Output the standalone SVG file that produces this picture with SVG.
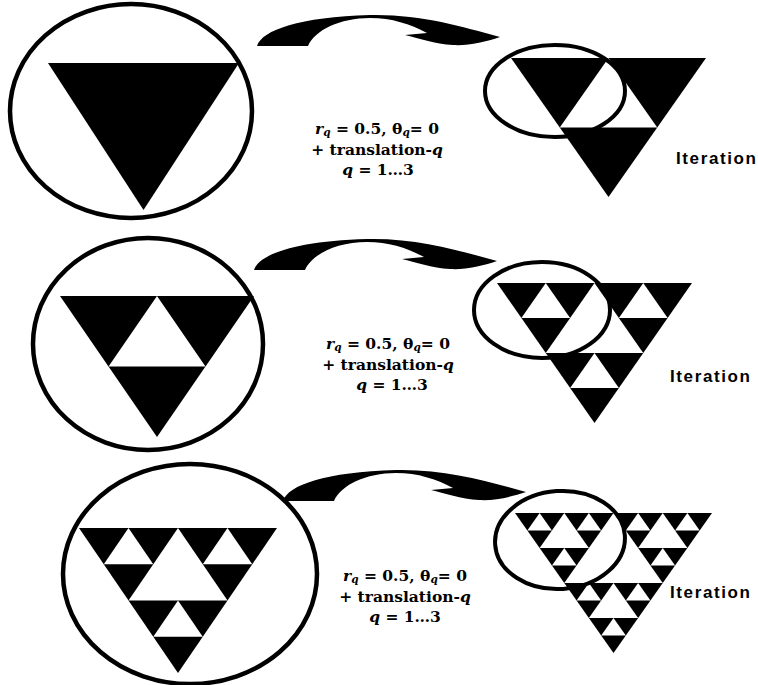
<svg xmlns="http://www.w3.org/2000/svg" xmlns:xlink="http://www.w3.org/1999/xlink" width="758" height="685" viewBox="0 0 758 685">
<style>
.bk{fill:#000}
.wh{fill:#fff}
.ring{fill:none;stroke:#000;stroke-width:4.5}
.ring2{fill:none;stroke:#000;stroke-width:4}
.arr{fill:#000}
.eq{font-family:"DejaVu Serif","Liberation Serif",serif;font-weight:bold;font-size:15.5px;fill:#000}
.it{font-style:italic}
.sub{font-style:italic;font-size:10.5px}
.lbl{font-family:"Liberation Sans",Arial,sans-serif;font-weight:bold;font-size:17px;fill:#000}
</style>
<defs>
<polygon id="tri" points="0,0 1,0 0.5,1"/>
<g id="h1"><polygon points="0.5,0 0.25,0.5 0.75,0.5"/></g>
<g id="h2">
<polygon points="0.25,0 0.125,0.25 0.375,0.25"/>
<polygon points="0.75,0 0.625,0.25 0.875,0.25"/>
<polygon points="0.5,0.5 0.375,0.75 0.625,0.75"/>
</g>
<g id="h3">
<polygon points="0.125,0 0.0625,0.125 0.1875,0.125"/>
<polygon points="0.375,0 0.3125,0.125 0.4375,0.125"/>
<polygon points="0.25,0.25 0.1875,0.375 0.3125,0.375"/>
<polygon points="0.625,0 0.5625,0.125 0.6875,0.125"/>
<polygon points="0.875,0 0.8125,0.125 0.9375,0.125"/>
<polygon points="0.75,0.25 0.6875,0.375 0.8125,0.375"/>
<polygon points="0.375,0.5 0.3125,0.625 0.4375,0.625"/>
<polygon points="0.625,0.5 0.5625,0.625 0.6875,0.625"/>
<polygon points="0.5,0.75 0.4375,0.875 0.5625,0.875"/>
</g>
<path id="swoosh" d="M257,46 C262,30 300,17 370,15 C420,14 460,26 500,37 C485,42 468,46 453,45 C435,44 418,38 405,35 L427,33 C410,24 392,18 370,18 C340,18 315,30 308,46 Z"/>
</defs>
<rect width="758" height="685" fill="#fff"/>

<g id="connectors">
<use href="#swoosh" class="arr"/>
<use href="#swoosh" class="arr" transform="translate(-3,224)"/>
<use href="#swoosh" class="arr" transform="translate(26,455)"/>
</g>

<g id="left1">
<ellipse class="ring" cx="131" cy="111" rx="121" ry="107"/>
<g transform="translate(48,63) scale(191,147)"><use href="#tri" class="bk"/></g>
</g>
<g id="right1">
<g transform="translate(511,58) scale(195,139)"><use href="#tri" class="bk"/><use href="#h1" class="wh"/></g>
<ellipse class="ring2" cx="555" cy="91" rx="70" ry="46"/>
</g>
<g id="eq1">
<text class="eq" x="377" y="134" text-anchor="middle"><tspan class="it">r</tspan><tspan class="sub" dy="2">q</tspan><tspan dy="-2"> = 0.5, θ</tspan><tspan class="sub" dy="2">q</tspan><tspan dy="-2">= 0</tspan></text>
<text class="eq" x="377" y="155" text-anchor="middle">+ translation-<tspan class="it">q</tspan></text>
<text class="eq" x="378" y="175" text-anchor="middle"><tspan class="it">q</tspan> = 1…3</text>
</g>
<text id="lbl1" class="lbl" x="676" y="164" textLength="80" lengthAdjust="spacing">Iteration</text>

<g id="left2">
<ellipse class="ring" cx="148" cy="344" rx="115" ry="106"/>
<g transform="translate(60,296) scale(194,141)"><use href="#tri" class="bk"/><use href="#h1" class="wh"/></g>
</g>
<g id="right2">
<g transform="translate(497,283) scale(195,140)"><use href="#tri" class="bk"/><use href="#h1" class="wh"/><use href="#h2" class="wh"/></g>
<ellipse class="ring2" cx="542" cy="310" rx="68" ry="48"/>
</g>
<g id="eq2">
<text class="eq" x="388" y="349" text-anchor="middle"><tspan class="it">r</tspan><tspan class="sub" dy="2">q</tspan><tspan dy="-2"> = 0.5, θ</tspan><tspan class="sub" dy="2">q</tspan><tspan dy="-2">= 0</tspan></text>
<text class="eq" x="388" y="370" text-anchor="middle">+ translation-<tspan class="it">q</tspan></text>
<text class="eq" x="392" y="390" text-anchor="middle"><tspan class="it">q</tspan> = 1…3</text>
</g>
<text id="lbl2" class="lbl" x="670" y="382" textLength="80" lengthAdjust="spacing">Iteration</text>

<g id="left3">
<ellipse class="ring" cx="190" cy="574" rx="127" ry="110"/>
<g transform="translate(79,528) scale(198,145)"><use href="#tri" class="bk"/><use href="#h1" class="wh"/><use href="#h2" class="wh"/></g>
</g>
<g id="right3">
<g transform="translate(515,513) scale(197,140)"><use href="#tri" class="bk"/><use href="#h1" class="wh"/><use href="#h2" class="wh"/><use href="#h3" class="wh"/></g>
<ellipse class="ring2" cx="560" cy="540" rx="65" ry="49" transform="rotate(-4 560 540)"/>
</g>
<g id="eq3">
<text class="eq" x="405" y="581" text-anchor="middle"><tspan class="it">r</tspan><tspan class="sub" dy="2">q</tspan><tspan dy="-2"> = 0.5, θ</tspan><tspan class="sub" dy="2">q</tspan><tspan dy="-2">= 0</tspan></text>
<text class="eq" x="405" y="602" text-anchor="middle">+ translation-<tspan class="it">q</tspan></text>
<text class="eq" x="405" y="622" text-anchor="middle"><tspan class="it">q</tspan> = 1…3</text>
</g>
<text id="lbl3" class="lbl" x="670" y="598" textLength="80" lengthAdjust="spacing">Iteration</text>
</svg>
